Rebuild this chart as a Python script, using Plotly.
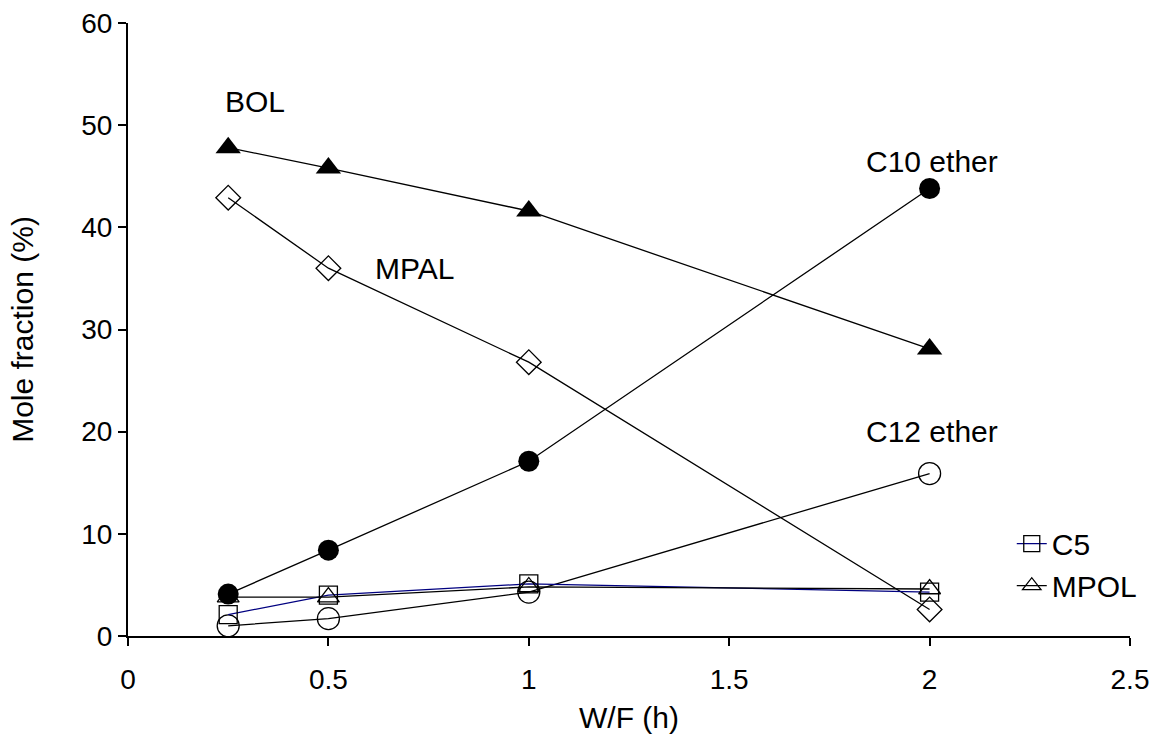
import plotly.graph_objects as go

wf = [0.25, 0.5, 1, 2]
bol = [47.8, 45.8, 41.6, 28.1]
mpal = [42.9, 36.0, 26.8, 2.6]
c10_ether = [4.1, 8.4, 17.1, 43.8]
c12_ether = [1.0, 1.7, 4.3, 15.9]
c5 = [2.1, 4.0, 5.1, 4.3]
mpol = [3.8, 3.8, 4.8, 4.6]

x_ticks = [0, 0.5, 1, 1.5, 2, 2.5]
x_tick_labels = ["0", "0.5", "1", "1.5", "2", "2.5"]
y_ticks = [0, 10, 20, 30, 40, 50, 60]

labels = [("BOL", 0.317, 52.3), ("MPAL", 0.716, 36.0), ("C10 ether", 2.006, 46.4), ("C12 ether", 2.006, 20.0)]

FONT = "Liberation Sans, Arial, sans-serif"
fig = go.Figure()
line_black = dict(color="black", width=1.3)

fig.add_trace(go.Scatter(x=wf, y=mpal, mode="lines+markers", name="MPAL", showlegend=False,
                         line=line_black, marker=dict(symbol="diamond-open", size=19, color="black", line=dict(width=1.3))))
fig.add_trace(go.Scatter(x=wf, y=c12_ether, mode="lines+markers", name="C12 ether", showlegend=False,
                         line=line_black, marker=dict(symbol="circle-open", size=22, color="black", line=dict(width=1.3))))
fig.add_trace(go.Scatter(x=wf, y=c5, mode="lines+markers", name="C5",
                         line=dict(color="#000080", width=1.3),
                         marker=dict(symbol="square-open", size=18, color="black", line=dict(width=1.3))))
fig.add_trace(go.Scatter(x=wf, y=mpol, mode="lines+markers", name="MPOL",
                         line=line_black, marker=dict(symbol="triangle-up-open", size=19, color="black", line=dict(width=1.3))))
fig.add_trace(go.Scatter(x=wf, y=c10_ether, mode="lines+markers", name="C10 ether", showlegend=False,
                         line=line_black, marker=dict(symbol="circle", size=21, color="black")))
fig.add_trace(go.Scatter(x=wf, y=bol, mode="lines+markers", name="BOL", showlegend=False,
                         line=line_black, marker=dict(symbol="triangle-up", size=22, color="black")))

for text, x, y in labels:
    fig.add_annotation(x=x, y=y, text=text, showarrow=False, xanchor="center", yanchor="middle",
                       font=dict(size=30, color="black", family=FONT))

fig.update_layout(
    width=1153, height=736,
    margin=dict(l=128, r=23, t=23, b=100, autoexpand=False),
    paper_bgcolor="white", plot_bgcolor="white",
    font=dict(family=FONT, size=28, color="black"),
    legend=dict(x=0.882, y=0.193, xanchor="left", yanchor="top", bgcolor="rgba(0,0,0,0)",
                font=dict(size=30), itemwidth=30, tracegroupgap=0),
    xaxis=dict(range=[0, 2.5], tickvals=x_ticks, ticktext=x_tick_labels, showgrid=False, zeroline=False,
               showline=True, linecolor="black", linewidth=2, ticks="outside", ticklen=8, tickwidth=1.5,
               tickcolor="black", tickfont=dict(size=28), automargin=False, ticklabelstandoff=9,
               ticklabeloverflow="allow",
               title=dict(text="W/F (h)", font=dict(size=30), standoff=13)),
    yaxis=dict(range=[0, 60], tickvals=y_ticks, showgrid=False, zeroline=False,
               showline=True, linecolor="black", linewidth=2, ticks="outside", ticklen=8, tickwidth=1.5,
               tickcolor="black", tickfont=dict(size=28), automargin=False, ticklabeloverflow="allow",
               title=dict(text="Mole fraction (%)", font=dict(size=30), standoff=39)),
)

fig.write_html("out.html", config={"displayModeBar": False},
               post_script="document.body.style.margin='0';document.body.style.overflow='hidden';")
